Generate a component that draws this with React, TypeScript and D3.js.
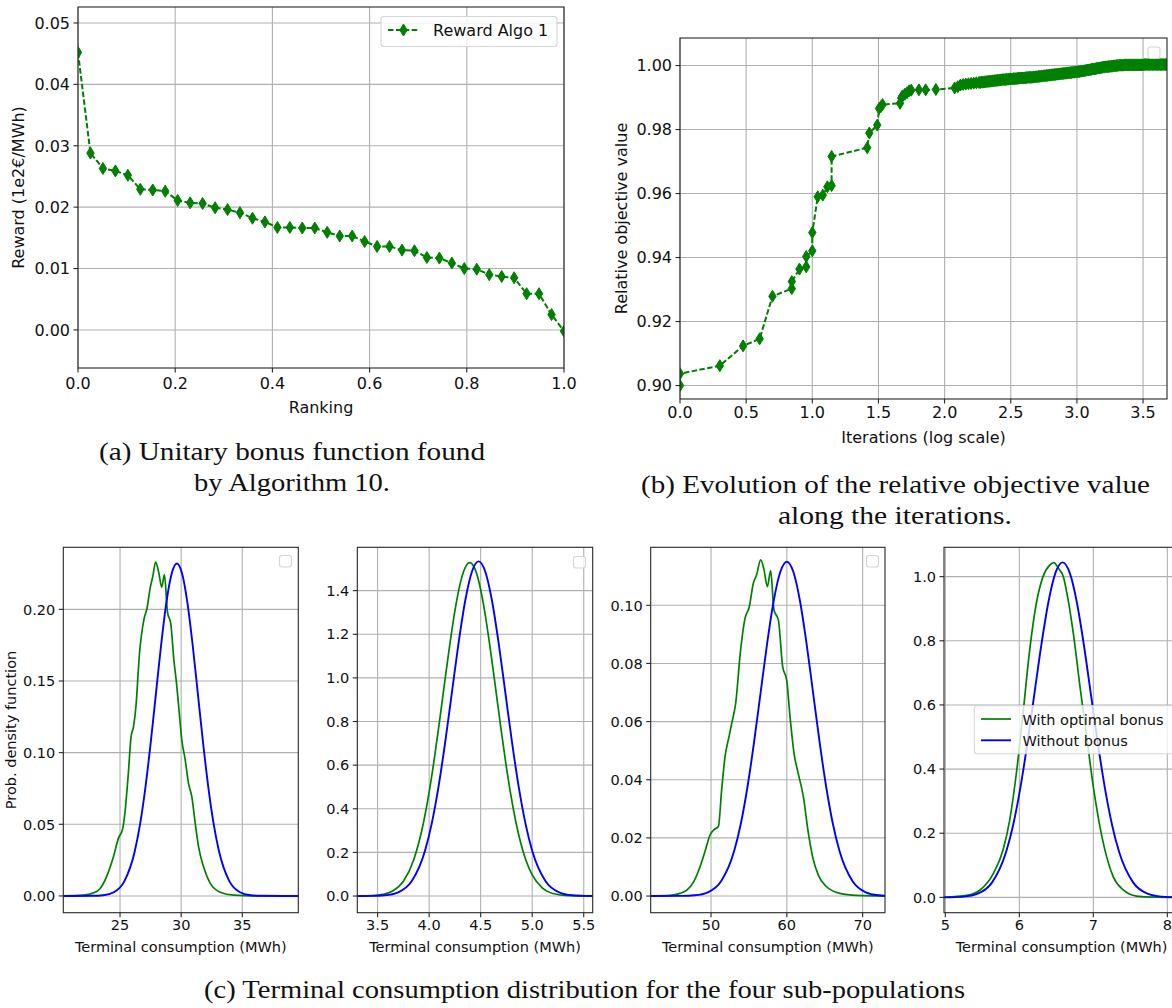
import React, { useEffect } from 'react';
import * as d3 from 'd3';

// ---------- Panel (a): unitary bonus function ----------
const rankingX = [0, 0.0256, 0.0513, 0.0769, 0.1026, 0.1282, 0.1538, 0.1795, 0.2051, 0.2308,
  0.2564, 0.2821, 0.3077, 0.3333, 0.359, 0.3846, 0.4103, 0.4359, 0.4615, 0.4872,
  0.5128, 0.5385, 0.5641, 0.5897, 0.6154, 0.641, 0.6667, 0.6923, 0.7179, 0.7436,
  0.7692, 0.7949, 0.8205, 0.8462, 0.8718, 0.8974, 0.9231, 0.9487, 0.9744, 1.0];
const rewardY = [0.0452, 0.0288, 0.0263, 0.0259, 0.0252, 0.0229, 0.0228, 0.0226, 0.0211, 0.0207,
  0.0206, 0.0199, 0.0196, 0.0191, 0.0182, 0.0176, 0.0167, 0.0167, 0.0166, 0.0166,
  0.0159, 0.0153, 0.0153, 0.0144, 0.0136, 0.0136, 0.013, 0.0129, 0.0118, 0.0117,
  0.0109, 0.01, 0.0099, 0.009, 0.0087, 0.0085, 0.0059, 0.0059, 0.0025, -0.0002];
const rankingTicks = [0, 0.2, 0.4, 0.6, 0.8, 1.0];
const rewardTicks = [0, 0.01, 0.02, 0.03, 0.04, 0.05];

// ---------- Panel (b): relative objective value ----------
const iterLogX = [0, 0, 0.301, 0.477, 0.602, 0.699, 0.845, 0.845, 0.903, 0.954, 0.954, 1.0, 1.0,
  1.041, 1.079, 1.114, 1.146, 1.146, 1.415, 1.431, 1.491, 1.505, 1.519, 1.531, 1.663, 1.672,
  1.681, 1.699, 1.716, 1.732, 1.748, 1.806, 1.857, 1.934, 2.076,
  2.10, 2.12, 2.14, 2.16, 2.18, 2.20, 2.22, 2.24,
  2.26, 2.27, 2.28, 2.29, 2.30, 2.31, 2.32, 2.33, 2.34, 2.35,
  2.36, 2.37, 2.38, 2.39, 2.40, 2.41, 2.42, 2.43, 2.44, 2.45,
  2.46, 2.47, 2.48, 2.49, 2.50, 2.51, 2.52, 2.53, 2.54, 2.55,
  2.56, 2.57, 2.58, 2.59, 2.60, 2.61, 2.62, 2.63, 2.64, 2.65,
  2.66, 2.67, 2.68, 2.69, 2.70, 2.71, 2.72, 2.73, 2.74, 2.75,
  2.76, 2.77, 2.78, 2.79, 2.80, 2.81, 2.82, 2.83, 2.84, 2.85,
  2.86, 2.87, 2.88, 2.89, 2.90, 2.91, 2.92, 2.93, 2.94, 2.95,
  2.96, 2.97, 2.98, 2.99, 3.00, 3.01, 3.02, 3.03, 3.04, 3.05,
  3.06, 3.07, 3.08, 3.09, 3.10, 3.11, 3.12, 3.13, 3.14, 3.15,
  3.16, 3.17, 3.18, 3.19, 3.20, 3.21, 3.22, 3.23, 3.24, 3.25,
  3.26, 3.27, 3.28, 3.29, 3.30, 3.31, 3.32, 3.33, 3.34, 3.35,
  3.36, 3.37, 3.38, 3.39, 3.40, 3.41, 3.42, 3.43, 3.44, 3.45,
  3.46, 3.47, 3.48, 3.49, 3.50, 3.51, 3.52, 3.53, 3.54, 3.55,
  3.56, 3.57, 3.58, 3.59, 3.60, 3.61, 3.62, 3.63, 3.64, 3.65,
  3.66, 3.67, 3.68, 3.69, 3.70];
const objValueY = [0.9, 0.9037, 0.9062, 0.9124, 0.9146, 0.9279, 0.9303, 0.9325, 0.9364, 0.9371, 0.9403, 0.9421, 0.9478,
  0.959, 0.9595, 0.9621, 0.9625, 0.9716, 0.9743, 0.9789, 0.9814, 0.9866, 0.9872, 0.9878, 0.9882, 0.9898,
  0.9905, 0.991, 0.9915, 0.9921, 0.9923, 0.9924, 0.9924, 0.9925, 0.993,
  0.9934, 0.9939, 0.9941, 0.9942, 0.9943, 0.9944, 0.9945, 0.9946,
  0.9947, 0.9947, 0.9948, 0.9948, 0.9949, 0.9949, 0.995, 0.995, 0.9951, 0.9951,
  0.9952, 0.9952, 0.9953, 0.9953, 0.9954, 0.9954, 0.9955, 0.9955, 0.9956, 0.9956,
  0.9956, 0.9957, 0.9957, 0.9958, 0.9958, 0.9958, 0.9959, 0.9959, 0.9959, 0.996,
  0.996, 0.9961, 0.9961, 0.9961, 0.9961, 0.9962, 0.9962, 0.9963, 0.9963, 0.9963,
  0.9963, 0.9964, 0.9964, 0.9965, 0.9965, 0.9966, 0.9966, 0.9967, 0.9967, 0.9968,
  0.9968, 0.9969, 0.9969, 0.997, 0.997, 0.9971, 0.9971, 0.9972, 0.9972, 0.9973,
  0.9973, 0.9974, 0.9974, 0.9975, 0.9975, 0.9976, 0.9976, 0.9977, 0.9977, 0.9978,
  0.9978, 0.9979, 0.9979, 0.998, 0.998, 0.9981, 0.9981, 0.9982, 0.9983, 0.9983,
  0.9984, 0.9985, 0.9986, 0.9986, 0.9987, 0.9988, 0.9989, 0.9989, 0.999, 0.9991,
  0.9992, 0.9992, 0.9993, 0.9994, 0.9995, 0.9995, 0.9996, 0.9996, 0.9997, 0.9997,
  0.9998, 0.9998, 0.9999, 0.9999, 1.0, 1.0, 1.0001, 1.0001, 1.0001, 1.0001,
  1.0002, 1.0002, 1.0002, 1.0002, 1.0002, 1.0002, 1.0002, 1.0002, 1.0002, 1.0002,
  1.0002, 1.0002, 1.0002, 1.0002, 1.0002, 1.0003, 1.0003, 1.0003, 1.0003, 1.0003,
  1.0003, 1.0003, 1.0003, 1.0003, 1.0003, 1.0003, 1.0003, 1.0003, 1.0003, 1.0003,
  1.0003, 1.0003, 1.0003, 1.0003, 1.0003];
const iterTicks = [0, 0.5, 1.0, 1.5, 2.0, 2.5, 3.0, 3.5];
const objTicks = [0.9, 0.92, 0.94, 0.96, 0.98, 1.0];

// ---------- Panel (c): terminal consumption densities ----------
// sub-population 1
const c1GreenX = [20.37, 22.0, 22.8, 23.36, 23.9, 24.45, 24.86, 25.22, 25.4, 25.68, 25.9, 26.1, 26.3, 26.58, 26.97,
  27.2, 27.46, 27.68, 27.91, 28.17, 28.41, 28.63, 28.88, 29.15, 29.4, 29.6, 29.8, 30.05, 30.33, 30.6, 30.87,
  31.15, 31.42, 31.83, 32.38, 33.2, 34.3, 35.9, 39.57];
const c1GreenY = [0, 0.0005, 0.002, 0.005, 0.0135, 0.027, 0.04, 0.047, 0.058, 0.0856, 0.111, 0.118, 0.132, 0.168, 0.1935,
  0.2004, 0.2147, 0.223, 0.233, 0.2255, 0.2155, 0.2242, 0.198, 0.19, 0.165, 0.15, 0.132, 0.109, 0.095, 0.0786, 0.0693,
  0.0507, 0.0344, 0.0205, 0.0088, 0.0026, 0.0005, 0, 0];
const c1BlueX = [20.37, 21.05, 22.77, 23.63, 24.49, 25.35, 26.21, 26.64, 27.07, 27.5, 27.93, 28.36, 28.79, 29.22, 29.65,
  30.08, 30.51, 30.94, 31.37, 31.8, 32.23, 32.66, 33.09, 33.95, 34.81, 35.67, 36.53, 38.25, 39.57];
const c1BlueY = [0, 0, 0.00008, 0.00051, 0.00258, 0.01019, 0.0314, 0.05017, 0.07532, 0.10622, 0.14071, 0.17512, 0.20474, 0.22486, 0.232,
  0.22486, 0.20474, 0.17512, 0.14071, 0.10622, 0.07532, 0.05017, 0.0314, 0.01019, 0.00258, 0.00051, 0.00008, 0, 0];
const c1XTicks = [25, 30, 35];
const c1YTicks = [0, 0.05, 0.1, 0.15, 0.2];

// sub-population 2
const c2GreenX = [3.303, 3.45, 3.55, 3.65, 3.75, 3.85, 3.95, 4.0, 4.05, 4.1, 4.15, 4.2, 4.25, 4.3, 4.35, 4.394,
  4.44, 4.49, 4.54, 4.59, 4.64, 4.69, 4.74, 4.79, 4.84, 4.89, 4.94, 5.0, 5.1, 5.2, 5.35, 5.587];
const c2GreenY = [0.0002, 0.0019, 0.0073, 0.0239, 0.0678, 0.1655, 0.3475, 0.4762, 0.6283, 0.7982, 0.977, 1.1515, 1.3075, 1.43, 1.506, 1.528,
  1.504, 1.4258, 1.302, 1.1448, 0.97, 0.7914, 0.6217, 0.4705, 0.343, 0.2408, 0.1629, 0.0969, 0.0362, 0.0116, 0.0016, 0];
const c2BlueX = [3.303, 3.44, 3.57, 3.7, 3.83, 3.96, 4.025, 4.09, 4.155, 4.22, 4.285, 4.35, 4.415, 4.48,
  4.545, 4.61, 4.675, 4.74, 4.805, 4.87, 4.935, 5.0, 5.13, 5.26, 5.39, 5.52, 5.587];
const c2BlueY = [0.00005, 0.00051, 0.00336, 0.01704, 0.0674, 0.20761, 0.33176, 0.49801, 0.70231, 0.93042, 1.15792, 1.35376, 1.4868, 1.534,
  1.4868, 1.35376, 1.15792, 0.93042, 0.70231, 0.49801, 0.33176, 0.20761, 0.0674, 0.01704, 0.00336, 0.00051, 0.0001];
const c2XTicks = [3.5, 4.0, 4.5, 5.0, 5.5];
const c2YTicks = [0, 0.2, 0.4, 0.6, 0.8, 1.0, 1.2, 1.4];

// sub-population 3
const c3GreenX = [42.04, 44.6, 45.9, 46.8, 47.7, 48.55, 49.2, 49.87, 50.44, 50.97, 51.4, 51.85, 52.37, 52.73, 53.25,
  53.9, 54.48, 55.05, 55.58, 56.0, 56.55, 56.99, 57.43, 57.87, 58.3, 58.88, 59.45, 59.98, 60.42, 60.95, 61.5,
  62.18, 62.84, 63.4, 64.15, 65.25, 67.0, 69.2, 72.95];
const c3GreenY = [0, 0.0002, 0.0009, 0.002, 0.0049, 0.0101, 0.0153, 0.021, 0.0229, 0.0239, 0.0365, 0.048, 0.0548, 0.0594, 0.0663,
  0.0846, 0.0955, 0.0995, 0.1076, 0.1104, 0.1156, 0.1122, 0.1064, 0.1119, 0.0984, 0.095, 0.0789, 0.0743, 0.0617, 0.0491, 0.0422,
  0.0342, 0.0216, 0.0135, 0.0072, 0.0032, 0.0009, 0.0002, 0];
const c3BlueX = [42.04, 46.12, 47.855, 49.59, 51.325, 53.06, 53.9275, 54.795, 55.6625, 56.53, 57.3975, 58.265, 59.1325, 60.0,
  60.8675, 61.735, 62.6025, 63.47, 64.3375, 65.205, 66.0725, 66.94, 68.675, 70.41, 72.145, 72.95];
const c3BlueY = [0, 0.00004, 0.00025, 0.00128, 0.00505, 0.01556, 0.02487, 0.03734, 0.05265, 0.06975, 0.08681, 0.10149, 0.11146, 0.115,
  0.11146, 0.10149, 0.08681, 0.06975, 0.05265, 0.03734, 0.02487, 0.01556, 0.00505, 0.00128, 0.00025, 0.0001];
const c3XTicks = [50, 60, 70];
const c3YTicks = [0, 0.02, 0.04, 0.06, 0.08, 0.1];

// sub-population 4
const c4GreenX = [4.98, 5.29, 5.47, 5.65, 5.78, 5.87, 5.96, 6.05, 6.14, 6.23, 6.32, 6.41, 6.468, 6.527, 6.595,
  6.66, 6.73, 6.82, 6.91, 7.0, 7.09, 7.18, 7.27, 7.405, 7.585, 7.81, 8.2];
const c4GreenY = [0.0003, 0.006, 0.023, 0.075, 0.148, 0.241, 0.387, 0.574, 0.771, 0.917, 1.0, 1.036, 1.044, 1.026, 1.0,
  0.927, 0.823, 0.657, 0.501, 0.345, 0.22, 0.127, 0.064, 0.023, 0.004, 0.0005, 0];
const c4BlueX = [4.98, 5.057, 5.248, 5.439, 5.63, 5.821, 5.9165, 6.012, 6.1075, 6.203, 6.2985, 6.394, 6.4895, 6.585,
  6.6805, 6.776, 6.8715, 6.967, 7.0625, 7.158, 7.2535, 7.349, 7.54, 7.731, 7.922, 8.113, 8.2];
const c4BlueY = [0.00002, 0.00035, 0.00229, 0.0116, 0.0459, 0.14136, 0.22589, 0.3391, 0.4782, 0.63352, 0.78843, 0.92177, 1.01236, 1.0445,
  1.01236, 0.92177, 0.78843, 0.63352, 0.4782, 0.3391, 0.22589, 0.14136, 0.0459, 0.0116, 0.00229, 0.00035, 0.0001];
const c4XTicks = [5, 6, 7, 8];
const c4YTicks = [0, 0.2, 0.4, 0.6, 0.8, 1.0];

const legendLabels = ['With optimal bonus', 'Without bonus'];

const GREEN = '#008000';
const BLUE = '#0000ff';
const GRID = '#b0b0b0';
const SANS = '"DejaVu Sans", sans-serif';
const SERIF = '"Liberation Serif", "DejaVu Serif", serif';

const zip = (xs: number[], ys: number[]) => xs.map((x, i) => [x, ys[i]] as [number, number]);

type Sc = d3.ScaleLinear<number, number>;

interface AxesProps {
  id: string;
  left: number; right: number; top: number; bottom: number;
  xDomain: [number, number]; yDomain: [number, number];
  xTicks: number[]; yTicks: number[];
  xFmt: (v: number) => string; yFmt: (v: number) => string;
  fs: number;
  xTickBase: number; xLabelBase: number;
  xLabel?: string; yLabel?: string; yLabelX?: number;
  emptyLegend?: [number, number];
  children: (x: Sc, y: Sc) => React.ReactNode;
}

function Axes(p: AxesProps) {
  const x = d3.scaleLinear().domain(p.xDomain).range([p.left, p.right]);
  const y = d3.scaleLinear().domain(p.yDomain).range([p.bottom, p.top]);
  const clipId = 'clip-' + p.id;
  const tickLen = 4.5;
  return (
    <g>
      <defs>
        <clipPath id={clipId}>
          <rect x={p.left} y={p.top} width={p.right - p.left} height={p.bottom - p.top} />
        </clipPath>
      </defs>
      {p.xTicks.map((t) => (
        <line key={'gx' + t} x1={x(t)} x2={x(t)} y1={p.top} y2={p.bottom} stroke={GRID} strokeWidth={1.1} />
      ))}
      {p.yTicks.map((t) => (
        <line key={'gy' + t} x1={p.left} x2={p.right} y1={y(t)} y2={y(t)} stroke={GRID} strokeWidth={1.1} />
      ))}
      <g clipPath={`url(#${clipId})`}>{p.children(x, y)}</g>
      <rect x={p.left} y={p.top} width={p.right - p.left} height={p.bottom - p.top} fill="none" stroke="#262626" strokeWidth={1.1} />
      {p.xTicks.map((t) => (
        <g key={'tx' + t}>
          <line x1={x(t)} x2={x(t)} y1={p.bottom} y2={p.bottom + tickLen} stroke="#262626" strokeWidth={1.1} />
          <text x={x(t)} y={p.xTickBase} textAnchor="middle" fontSize={p.fs} fontFamily={SANS} fill="#111">{p.xFmt(t)}</text>
        </g>
      ))}
      {p.yTicks.map((t) => (
        <g key={'ty' + t}>
          <line x1={p.left - tickLen} x2={p.left} y1={y(t)} y2={y(t)} stroke="#262626" strokeWidth={1.1} />
          <text x={p.left - tickLen - 3.5} y={y(t) + p.fs * 0.36} textAnchor="end" fontSize={p.fs} fontFamily={SANS} fill="#111">{p.yFmt(t)}</text>
        </g>
      ))}
      {p.xLabel && (
        <text x={(p.left + p.right) / 2} y={p.xLabelBase} textAnchor="middle" fontSize={p.fs} fontFamily={SANS} fill="#111">{p.xLabel}</text>
      )}
      {p.yLabel && (
        <text transform={`translate(${p.yLabelX},${(p.top + p.bottom) / 2}) rotate(-90)`} textAnchor="middle" fontSize={p.fs} fontFamily={SANS} fill="#111">{p.yLabel}</text>
      )}
      {p.emptyLegend && (
        <rect x={p.emptyLegend[0]} y={p.emptyLegend[1]} width={12} height={11.5} rx={2.5} fill="#fff" fillOpacity={0.8} stroke="#d5d5d5" strokeWidth={1.1} />
      )}
    </g>
  );
}

const diamond = 'M0,-6L3.7,0L0,6L-3.7,0Z';

function DashedDiamonds({ pts, x, y }: { pts: [number, number][]; x: Sc; y: Sc }) {
  const line = d3.line<[number, number]>().x((d) => x(d[0])).y((d) => y(d[1]));
  return (
    <g>
      <path d={line(pts) || ''} fill="none" stroke={GREEN} strokeWidth={2} strokeDasharray="5.5,2.4" />
      {pts.map((d, i) => (
        <path key={i} d={diamond} transform={`translate(${x(d[0])},${y(d[1])})`} fill={GREEN} stroke={GREEN} strokeWidth={1} />
      ))}
    </g>
  );
}

function Density({ g, b, x, y }: { g: [number, number][]; b: [number, number][]; x: Sc; y: Sc }) {
  const line = d3.line<[number, number]>().x((d) => x(d[0])).y((d) => y(d[1])).curve(d3.curveMonotoneX);
  return (
    <g>
      <path d={line(g) || ''} fill="none" stroke={GREEN} strokeWidth={1.7} />
      <path d={line(b) || ''} fill="none" stroke={BLUE} strokeWidth={1.9} />
    </g>
  );
}

const f2 = d3.format('.2f');
const f1 = d3.format('.1f');
const f0 = d3.format('d');

export default function App() {
  useEffect(() => {
    document.body.style.margin = '0';
  }, []);
  const rewardPts = zip(rankingX, rewardY);
  const objPts = zip(iterLogX, objValueY);
  const cBase = { top: 547.3, bottom: 912.7, fs: 14.5, xTickBase: 929.5, xLabelBase: 952, xLabel: 'Terminal consumption (MWh)' };
  return (
    <svg width={1172} height={1008} style={{ position: 'absolute', left: 0, top: 0, background: '#fff', overflow: 'hidden' }}>
      <rect x={0} y={0} width={1172} height={1008} fill="#fff" />
      {/* Panel (a) */}
      <Axes id="a" left={78} right={564} top={7} bottom={368} xDomain={[0, 1]} yDomain={[-0.0062, 0.0526]}
        xTicks={rankingTicks} yTicks={rewardTicks} xFmt={f1} yFmt={f2} fs={16}
        xTickBase={389} xLabelBase={413} xLabel="Ranking" yLabel="Reward (1e2€/MWh)" yLabelX={24}>
        {(x, y) => <DashedDiamonds pts={rewardPts} x={x} y={y} />}
      </Axes>
      <g>
        <rect x={381} y={16.5} width={176} height={30} rx={3} fill="#fff" fillOpacity={0.8} stroke="#d5d5d5" strokeWidth={1.1} />
        <line x1={388} x2={419} y1={30} y2={30} stroke={GREEN} strokeWidth={2} strokeDasharray="5.5,2.4" />
        <path d={diamond} transform="translate(403.5,30)" fill={GREEN} stroke={GREEN} />
        <text x={433} y={36} fontSize={16} fontFamily={SANS} fill="#111">Reward Algo 1</text>
      </g>
      {/* Panel (b) */}
      <Axes id="b" left={680} right={1167} top={38} bottom={399} xDomain={[0, 3.681]} yDomain={[0.8958, 1.0086]}
        xTicks={iterTicks} yTicks={objTicks} xFmt={f1} yFmt={f2} fs={16}
        xTickBase={418} xLabelBase={443} xLabel="Iterations (log scale)" yLabel="Relative objective value" yLabelX={627}
        emptyLegend={[1148, 47]}>
        {(x, y) => <DashedDiamonds pts={objPts} x={x} y={y} />}
      </Axes>
      {/* Panel (c) */}
      <Axes id="c1" left={63.3} right={298.3} xDomain={[20.36, 39.58]} yDomain={[-0.0117, 0.2433]}
        xTicks={c1XTicks} yTicks={c1YTicks} xFmt={f0} yFmt={f2} {...cBase}
        yLabel="Prob. density function" yLabelX={15.5} emptyLegend={[279.5, 555.5]}>
        {(x, y) => <Density g={zip(c1GreenX, c1GreenY)} b={zip(c1BlueX, c1BlueY)} x={x} y={y} />}
      </Axes>
      <Axes id="c2" left={357.3} right={592.7} xDomain={[3.303, 5.587]} yDomain={[-0.0764, 1.5987]}
        xTicks={c2XTicks} yTicks={c2YTicks} xFmt={f1} yFmt={f1} {...cBase} emptyLegend={[573.5, 556.5]}>
        {(x, y) => <Density g={zip(c2GreenX, c2GreenY)} b={zip(c2BlueX, c2BlueY)} x={x} y={y} />}
      </Axes>
      <Axes id="c3" left={650.7} right={885} xDomain={[42.04, 72.95]} yDomain={[-0.00573, 0.11995]}
        xTicks={c3XTicks} yTicks={c3YTicks} xFmt={f0} yFmt={f2} {...cBase} emptyLegend={[866.5, 555.5]}>
        {(x, y) => <Density g={zip(c3GreenX, c3GreenY)} b={zip(c3BlueX, c3BlueY)} x={x} y={y} />}
      </Axes>
      <Axes id="c4" left={944} right={1179} xDomain={[4.982, 8.158]} yDomain={[-0.0478, 1.0915]}
        xTicks={c4XTicks} yTicks={c4YTicks} xFmt={f0} yFmt={f1} {...cBase}>
        {(x, y) => <Density g={zip(c4GreenX, c4GreenY)} b={zip(c4BlueX, c4BlueY)} x={x} y={y} />}
      </Axes>
      <g>
        <rect x={974.3} y={705.7} width={210} height={48} rx={3} fill="#fff" fillOpacity={0.8} stroke="#d5d5d5" strokeWidth={1.1} />
        <line x1={981} x2={1011} y1={719} y2={719} stroke={GREEN} strokeWidth={1.7} />
        <text x={1022.5} y={724.5} fontSize={14.5} fontFamily={SANS} fill="#111">{legendLabels[0]}</text>
        <line x1={981} x2={1011} y1={740.3} y2={740.3} stroke={BLUE} strokeWidth={1.9} />
        <text x={1022.5} y={745.5} fontSize={14.5} fontFamily={SANS} fill="#111">{legendLabels[1]}</text>
      </g>
      {/* Captions */}
      <g fontFamily={SERIF} fontSize={25} fill="#111">
        <text x={99} y={460} textLength={386} lengthAdjust="spacingAndGlyphs">(a) Unitary bonus function found</text>
        <text x={194} y={491} textLength={196} lengthAdjust="spacingAndGlyphs">by Algorithm 10.</text>
        <text x={641} y={493} textLength={509} lengthAdjust="spacingAndGlyphs">(b) Evolution of the relative objective value</text>
        <text x={778} y={524} textLength={234} lengthAdjust="spacingAndGlyphs">along the iterations.</text>
        <text x={204} y={998} textLength={761} lengthAdjust="spacingAndGlyphs">(c) Terminal consumption distribution for the four sub-populations</text>
      </g>
    </svg>
  );
}
